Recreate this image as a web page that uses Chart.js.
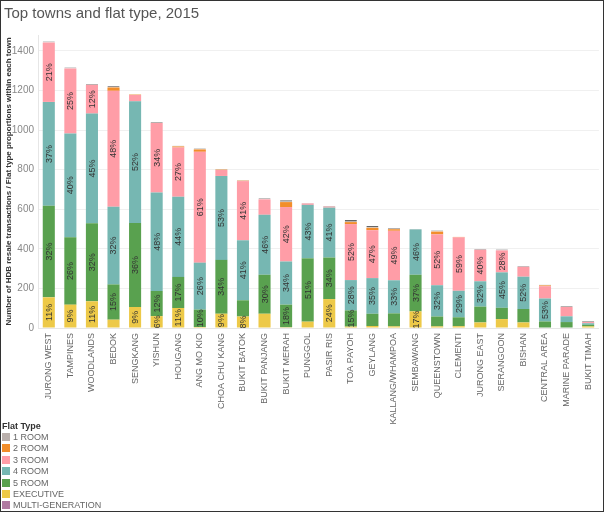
<!DOCTYPE html>
<html>
<head>
<meta charset="utf-8">
<script src="https://cdn.jsdelivr.net/npm/chart.js@4.4.1/dist/chart.umd.min.js"></script>
<style>
  html, body { margin: 0; padding: 0; background: #fff; }
  #frame { position: absolute; left: 0; top: 0; width: 604px; height: 512px; box-sizing: border-box; border: 1px solid #333; }
  #wrap { position: absolute; left: 0; top: 0; width: 604px; height: 424px; }
  #legend { position: absolute; left: 2px; top: 420px; font-family: "Liberation Sans", Arial, sans-serif; }
  #legend .ttl { font-size: 9px; font-weight: bold; color: #333; height: 12px; line-height: 12px; }
  #legend .item { height: 11.4px; line-height: 11.4px; font-size: 9px; color: #666; white-space: nowrap; }
  #legend .sw { display: inline-block; width: 8px; height: 8px; margin-right: 3px; vertical-align: -1px; }
</style>
</head>
<body>
<div id="wrap"><canvas id="chart" width="604" height="424"></canvas></div>
<div id="legend"></div>
<div id="frame"></div>
<script>
// towns, biggest first
const towns = ["JURONG WEST", "TAMPINES", "WOODLANDS", "BEDOK", "SENGKANG", "YISHUN", "HOUGANG", "ANG MO KIO",
  "CHOA CHU KANG", "BUKIT BATOK", "BUKIT PANJANG", "BUKIT MERAH", "PUNGGOL", "PASIR RIS", "TOA PAYOH", "GEYLANG",
  "KALLANG/WHAMPOA", "SEMBAWANG", "QUEENSTOWN", "CLEMENTI", "JURONG EAST", "SERANGOON", "BISHAN", "CENTRAL AREA",
  "MARINE PARADE", "BUKIT TIMAH"];

// resale transactions per flat type
const room1 = [5, 5, 4, 7, 2, 5, 4, 5, 3, 2, 5, 9, 2, 3, 10, 9, 6, 2, 6, 0, 4, 5, 4, 4, 5, 5];
const room2 = [0, 0, 0, 17, 2, 0, 5, 12, 2, 2, 0, 25, 0, 0, 10, 12, 8, 0, 14, 2, 0, 0, 0, 4, 0, 0];
const room3 = [300, 328, 145, 585, 32, 350, 249, 560, 30, 299, 78, 275, 7, 5, 283, 242, 250, 0, 257, 270, 159, 111, 50, 62, 47, 6];
const room4 = [525, 524, 554, 393, 614, 498, 405, 237, 424, 303, 303, 218, 270, 252, 153, 180, 167, 229, 158, 134, 128, 179, 163, 116, 29, 8];
const room5 = [462, 341, 394, 178, 425, 127, 157, 88, 272, 82, 197, 114, 320, 210, 82, 62, 66, 185, 50, 45, 80, 57, 68, 33, 30, 8];
const executive = [155, 118, 135, 42, 106, 60, 101, 5, 72, 58, 72, 4, 32, 146, 7, 10, 8, 84, 8, 9, 28, 45, 28, 0, 0, 8];
const multiGen = [0, 0, 0, 0, 0, 0, 0, 0, 0, 0, 0, 0, 0, 0, 0, 0, 0, 0, 0, 0, 0, 0, 0, 0, 0, 0];

// proportion labels shown inside the bars (null = no label)
const pct3 = [21, 25, 12, 48, null, 34, 27, 61, null, 41, null, 42, null, null, 52, 47, 49, null, 52, 59, 40, 28, null, null, null, null];
const pct4 = [37, 40, 45, 32, 52, 48, 44, 26, 53, 41, 46, 34, 43, 41, 28, 35, 33, 46, 32, 29, 32, 45, 52, 53, null, null];
const pct5 = [32, 26, 32, 15, 36, 12, 17, 10, 34, null, 30, 18, 51, 34, 15, null, null, 37, null, null, null, null, null, null, null, null];
const pctExec = [11, 9, 11, null, 9, 6, 11, null, 9, 8, null, null, null, 24, null, null, null, 17, null, null, null, null, null, null, null, null];

const yTicks = [0, 200, 400, 600, 800, 1000, 1200, 1400];

const FONT = '"Liberation Sans", Arial, sans-serif';

// legend order (top to bottom)
const flatTypes = [
    { name: "1 ROOM", data: room1, color: "#BAB0AC" },
    { name: "2 ROOM", data: room2, color: "#F28E2B" },
    { name: "3 ROOM", data: room3, color: "#FF9DA7", pct: pct3 },
    { name: "4 ROOM", data: room4, color: "#76B7B2", pct: pct4 },
    { name: "5 ROOM", data: room5, color: "#59A14F", pct: pct5 },
    { name: "EXECUTIVE", data: executive, color: "#EDC948", pct: pctExec },
    { name: "MULTI-GENERATION", data: multiGen, color: "#B07AA1" },
];

// stack order: multi-gen, executive ... 1 room on top
const stackOrder = ["MULTI-GENERATION", "EXECUTIVE", "5 ROOM", "4 ROOM", "3 ROOM", "2 ROOM", "1 ROOM"];
const datasets = stackOrder.map(n => {
    const t = flatTypes.find(f => f.name === n);
    const ds = {
        label: t.name,
        data: t.data,
        backgroundColor: t.color,
        borderWidth: 0,
        pct: t.pct || null,
        barPercentage: 0.56,
        categoryPercentage: 1,
    };
    if (n === "1 ROOM") {
        ds.borderWidth = { top: 1, left: 0, right: 0, bottom: 0 };
        ds.borderColor = "#666";
        ds.borderSkipped = false;
    }
    return ds;
});

const pctLabels = {
    id: "pctLabels",
    afterDatasetsDraw(chart) {
        const ctx = chart.ctx;
        ctx.save();
        ctx.font = "9px " + FONT;
        ctx.fillStyle = "#333";
        ctx.textAlign = "center";
        ctx.textBaseline = "middle";
        chart.data.datasets.forEach((ds, di) => {
            if (!ds.pct) return;
            const meta = chart.getDatasetMeta(di);
            meta.data.forEach((bar, i) => {
                if (ds.pct[i] == null) return;
                const cy = (bar.y + bar.base) / 2;
                ctx.save();
                ctx.translate(bar.x, cy);
                ctx.rotate(-Math.PI / 2);
                ctx.fillText(ds.pct[i] + "%", 0, 0.5);
                ctx.restore();
            });
        });
        ctx.restore();
    }
};

new Chart(document.getElementById("chart"), {
    type: "bar",
    data: { labels: towns, datasets: datasets },
    options: {
        responsive: false,
        animation: false,
        layout: { padding: { left: 4, right: 3, top: 0, bottom: 0 } },
        plugins: {
            legend: { display: false },
            tooltip: { enabled: false },
            title: {
                display: true,
                text: "Top towns and flat type, 2015",
                align: "start",
                color: "#555",
                font: { family: FONT, size: 15, weight: "normal" },
                padding: { top: 5, bottom: 12 },
            },
        },
        scales: {
            x: {
                stacked: true,
                grid: { display: false, drawTicks: false },
                border: { display: true, color: "#e6e6e6" },
                ticks: {
                    color: "#666",
                    font: { family: FONT, size: 9 },
                    minRotation: 90,
                    maxRotation: 90,
                    autoSkip: false,
                    padding: 5,
                },
                afterFit(scale) { scale.height = 96; },
            },
            y: {
                stacked: true,
                min: 0,
                max: 1480,
                grid: { color: "#f0f0f0", drawTicks: false },
                border: { display: true, color: "#e6e6e6" },
                ticks: {
                    stepSize: 200,
                    color: "#888",
                    font: { family: FONT, size: 10 },
                    padding: 4,
                    callback: v => String(v),
                },
                afterBuildTicks(scale) {
                    scale.ticks = yTicks.map(v => ({ value: v }));
                },
                title: {
                    display: true,
                    text: "Number of HDB resale transactions / Flat type proportions within each town",
                    color: "#333",
                    font: { family: FONT, size: 8, weight: "bold" },
                    padding: { top: 0, bottom: 0 },
                },
                afterFit(scale) { scale.width = 34; },
            },
        },
    },
    plugins: [pctLabels],
});

// legend
const legend = document.getElementById("legend");
let html = '<div class="ttl">Flat Type</div>';
flatTypes.forEach(t => {
    html += '<div class="item"><span class="sw" style="background:' + t.color + '"></span>' + t.name + '</div>';
});
legend.innerHTML = html;
</script>
</body>
</html>
